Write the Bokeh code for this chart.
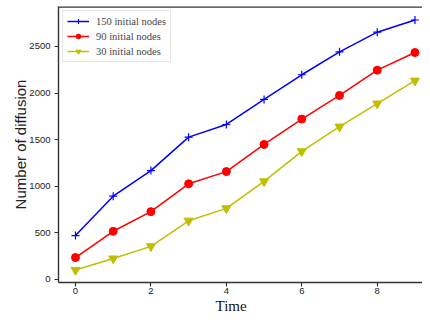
from bokeh.plotting import figure
from bokeh.models import Span, FixedTicker, Legend, LegendItem, Title
from bokeh.embed import file_html
from bokeh.resources import INLINE

time = [0, 1, 2, 3, 4, 5, 6, 7, 8, 9]
nodes150 = [469, 892, 1167, 1526, 1662, 1931, 2196, 2442, 2653, 2784]
nodes90 = [233, 515, 726, 1025, 1156, 1448, 1720, 1974, 2245, 2435]
nodes30 = [99, 222, 353, 628, 761, 1051, 1374, 1638, 1886, 2132]
labels = ["150 initial nodes", "90 initial nodes", "30 initial nodes"]
x_ticks = [0, 2, 4, 6, 8]
y_ticks = [0, 500, 1000, 1500, 2000, 2500]

SERIF = "Liberation Serif"
SANS = "Liberation Sans"
Y_TOP = 2929

p = figure(width=422, height=312, x_range=(-0.45, 9.2), y_range=(-35, Y_TOP),
           output_backend="svg", toolbar_location=None,
           min_border_left=58, min_border_right=0, min_border_top=6, min_border_bottom=28)
p.outline_line_color = None
p.xgrid.visible = False
p.ygrid.visible = False
p.background_fill_color = "white"
p.border_fill_color = "white"

for ax in (p.xaxis[0], p.yaxis[0]):
    ax.axis_line_color = "#333333"
    ax.axis_line_width = 1.4
    ax.major_tick_line_color = "#333333"
    ax.major_tick_line_width = 1.2
    ax.major_tick_out = 4
    ax.major_tick_in = 0
    ax.minor_tick_line_color = None
    ax.major_label_text_font = SANS
    ax.major_label_text_font_size = "9.5px"
    ax.major_label_text_color = "#222222"

p.xaxis.ticker = FixedTicker(ticks=x_ticks)
p.yaxis.ticker = FixedTicker(ticks=y_ticks)
p.xaxis.major_label_standoff = 1
p.yaxis.major_label_standoff = 4
p.yaxis.axis_label = "Number of diffusion"
p.yaxis.axis_label_text_font = SANS
p.yaxis.axis_label_text_font_size = "15px"
p.yaxis.axis_label_text_font_style = "normal"
p.yaxis.axis_label_text_color = "#222222"
p.yaxis.axis_label_standoff = -3

top = Span(location=Y_TOP, dimension="width", line_color="#333333", line_width=2.5)
p.add_layout(top)

l1 = p.line(time, nodes150, line_color="#0000ff", line_width=1.5)
m1 = p.scatter(time, nodes150, marker="cross", size=8, line_color="#0000ff", line_width=1.2)
l2 = p.line(time, nodes90, line_color="#ff0000", line_width=1.5)
m2 = p.scatter(time, nodes90, marker="circle", size=8, fill_color="#ff0000", line_color="#ff0000")
l3 = p.line(time, nodes30, line_color="#bfbf00", line_width=1.5)
m3 = p.scatter(time, nodes30, marker="inverted_triangle", size=9, fill_color="#bfbf00", line_color="#bfbf00")

legend = Legend(items=[LegendItem(label=labels[0], renderers=[l1, m1]),
                       LegendItem(label=labels[1], renderers=[l2, m2]),
                       LegendItem(label=labels[2], renderers=[l3, m3])],
                location="top_left")
legend.margin = 4
legend.padding = 4
legend.spacing = 3
legend.glyph_width = 22
legend.glyph_height = 12
legend.label_height = 12
legend.label_standoff = 7
legend.label_text_font = SERIF
legend.label_text_font_size = "10.5px"
legend.label_text_baseline = "middle"
legend.border_line_color = "#cccccc"
legend.border_line_width = 1
legend.background_fill_alpha = 0.9
p.add_layout(legend)

xt = Title(text="Time", align="left", offset=157, standoff=-2,
           text_font=SERIF, text_font_size="15px", text_font_style="normal",
           text_color="#111111")
p.add_layout(xt, "below")

open("out.html", "w").write(file_html(p, INLINE))
